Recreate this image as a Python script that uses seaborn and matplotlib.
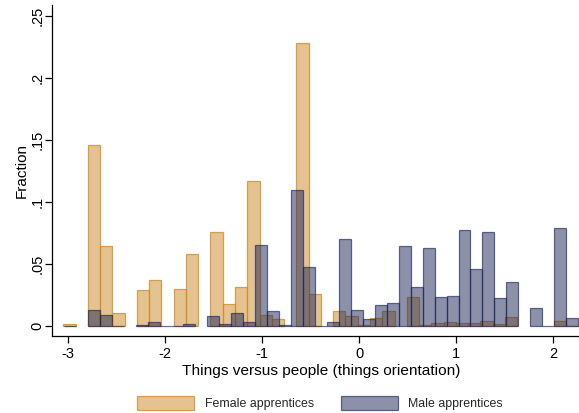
import numpy as np
import matplotlib
matplotlib.use("Agg")
import matplotlib.pyplot as plt
from matplotlib.patches import Patch
import pandas as pd
import seaborn as sns

# Histogram bin settings (each group has its own bins)
female_start, female_width = -3.052, 0.1265
male_start, male_width = -3.046, 0.1233

# Fraction of apprentices in each bin
female_fraction = [
    0.0016, 0.0, 0.146, 0.0648, 0.0105, 0.0, 0.029, 0.0376, 0.0, 0.030,
    0.058, 0.0, 0.0763, 0.018, 0.0315, 0.117, 0.009, 0.0056, 0.0, 0.228,
    0.026, 0.0, 0.0126, 0.0085, 0.001, 0.0065, 0.0125, 0.0, 0.024, 0.0008,
    0.0024, 0.0035, 0.003, 0.0024, 0.0046, 0.0019, 0.0073, 0.0, 0.0, 0.0,
    0.0043, 0.0004,
]
male_fraction = [
    0.0005, 0.0, 0.0129, 0.0089, 0.0005, 0.0, 0.001, 0.0033, 0.0003, 0.0005,
    0.002, 0.0, 0.008, 0.0015, 0.0105, 0.0034, 0.0657, 0.0124, 0.0008, 0.110,
    0.048, 0.0005, 0.0037, 0.070, 0.0135, 0.0056, 0.0172, 0.0185, 0.0648, 0.0316,
    0.0631, 0.0234, 0.0248, 0.0777, 0.046, 0.0763, 0.0227, 0.0355, 0.0, 0.015,
    0.0005, 0.0796, 0.0065,
]

x_ticks = [-3, -2, -1, 0, 1, 2]
y_ticks = [0, 0.05, 0.1, 0.15, 0.2, 0.25]
y_tick_labels = ["0", ".05", ".1", ".15", ".2", ".25"]

sns.set_theme(style="white")
plt.rcParams["font.family"] = ["Liberation Sans", "DejaVu Sans"]

female_face = (205 / 255, 141 / 255, 45 / 255, 0.52)
female_edge = (205 / 255, 141 / 255, 45 / 255, 0.8)
male_face = (26 / 255, 36 / 255, 85 / 255, 0.5)
male_edge = (26 / 255, 36 / 255, 85 / 255, 0.65)

fig = plt.figure(figsize=(5.79, 4.13), dpi=100)
ax = fig.add_axes([52 / 579, 1 - 336 / 413, 1 - 52 / 579, (336 - 5) / 413])


def draw_hist(values, start, width, face, edge):
    n = len(values)
    edges = start + width * np.arange(n + 1)
    frame = pd.DataFrame({
        "center": (edges[:-1] + edges[1:]) / 2,
        "fraction": values,
    })
    before = len(ax.patches)
    sns.histplot(data=frame, x="center", weights="fraction", bins=list(edges),
                 stat="count", element="bars", fill=True, facecolor=face,
                 edgecolor=edge, linewidth=0.9, ax=ax)
    # empty bins are left blank
    for p in ax.patches[before:]:
        if p.get_height() <= 0:
            p.set_visible(False)


draw_hist(female_fraction, female_start, female_width, female_face, female_edge)
draw_hist(male_fraction, male_start, male_width, male_face, male_edge)

ax.set_xlim(-3.168, 2.265)
ax.set_ylim(-0.0078, 0.259)

for side in ["top", "right"]:
    ax.spines[side].set_visible(False)
for side in ["left", "bottom"]:
    ax.spines[side].set_color("black")
    ax.spines[side].set_linewidth(0.9)

ax.set_xticks(x_ticks)
ax.set_xticklabels([str(t) for t in x_ticks])
ax.set_yticks(y_ticks)
ax.set_yticklabels(y_tick_labels, rotation=90, va="center")
ax.tick_params(axis="both", which="major", direction="out", length=5, width=0.9,
               color="black", labelsize=10.5, labelcolor="black",
               bottom=True, left=True)
ax.tick_params(axis="x", pad=3)
ax.tick_params(axis="y", pad=0.5)

ax.set_xlabel("Things versus people (things orientation)", fontsize=11.1,
              color="black")
ax.xaxis.set_label_coords(0.51, -0.106, transform=ax.transAxes)
ax.xaxis.label.set_va("center")
ax.set_ylabel("Fraction", fontsize=11, color="black", labelpad=1.5)
ax.grid(False)

handles = [
    Patch(facecolor=female_face, edgecolor=female_edge, linewidth=0.9,
          label="Female apprentices"),
    Patch(facecolor=male_face, edgecolor=male_edge, linewidth=0.9,
          label="Male apprentices"),
]
fig.legend(handles=handles, loc="center", bbox_to_anchor=(320 / 579, 1 - 403 / 413),
           ncol=2, frameon=False, fontsize=8.9, handlelength=4.6,
           handleheight=1.4, handletextpad=0.85, columnspacing=2.2)

fig.savefig("out.png", dpi=100)
